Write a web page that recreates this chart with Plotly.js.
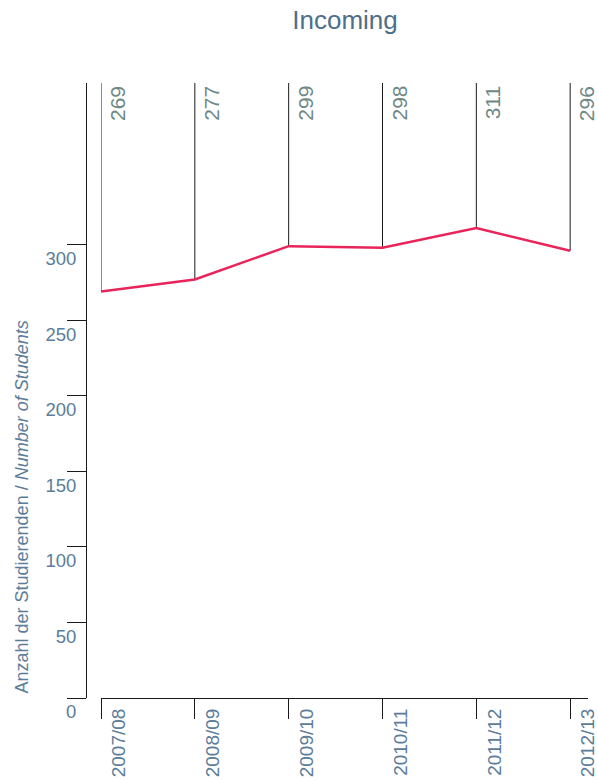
<!DOCTYPE html>
<html><head><meta charset="utf-8">
<script src="https://cdn.plot.ly/plotly-3.0.1.min.js"></script>
<style>html,body{margin:0;padding:0;background:#fff;}</style>
</head><body><div id="chart" style="width:598px;height:781px;"></div>
<script>
const years = ['2007/08','2008/09','2009/10','2010/11','2011/12','2012/13'];
const incoming = [269, 277, 299, 298, 311, 296];
const yTicks = [0, 50, 100, 150, 200, 250, 300];
const chartTitle = 'Incoming';
const yTitle = 'Anzahl der Studierenden / <i>Number of Students</i>';

const FONT = 'Liberation Sans, Arial, sans-serif';
const yMax = 407;

const dropX = [], dropY = [];
years.forEach((c, i) => { dropX.push(c, c, null); dropY.push(incoming[i], yMax, null); });

const traces = [
  {x: dropX, y: dropY, type: 'scatter', mode: 'lines', line: {color: '#1a1a1a', width: 1}, hoverinfo: 'skip', cliponaxis: false, showlegend: false},
  {x: years, y: incoming, type: 'scatter', mode: 'lines', line: {color: '#e8245a', width: 2.5}, cliponaxis: false, showlegend: false}
];

const annotations = years.map((c, i) => ({
  x: c, y: 1, xref: 'x', yref: 'paper', text: String(incoming[i]), showarrow: false,
  textangle: -90, xanchor: 'left', yanchor: 'top', xshift: 3, yshift: -1,
  font: {family: FONT, size: 21, color: '#6e8986'}
}));
annotations.push({
  x: 0, y: 0, xref: 'paper', yref: 'paper', text: yTitle, showarrow: false,
  textangle: -90, xanchor: 'center', yanchor: 'bottom', xshift: -65, yshift: 2,
  font: {family: FONT, size: 18, color: '#5b7d99'}
});

const layout = {
  width: 598, height: 781,
  margin: {l: 86, r: 10, t: 83, b: 83, pad: 0},
  paper_bgcolor: '#fff', plot_bgcolor: '#fff',
  showlegend: false,
  title: {text: chartTitle, x: 0.516, xref: 'paper', xanchor: 'center', y: 0.975, yref: 'container', yanchor: 'middle',
          font: {family: FONT, size: 26, color: '#4d6f8a'}},
  xaxis: {
    type: 'category', domain: [15/502, 1], range: [0, 5.19],
    showgrid: false, zeroline: false, showline: true, linecolor: '#1a1a1a', linewidth: 1,
    ticks: 'outside', ticklen: 20, tickcolor: '#1a1a1a', tickwidth: 1,
    tickangle: -90, ticklabelshift: 18, ticklabelstandoff: -18,
    tickfont: {family: FONT, size: 19, color: '#5b7d99'}
  },
  yaxis: {
    range: [0, yMax], anchor: 'free', position: 0,
    tickvals: yTicks, ticktext: yTicks.map(String),
    showgrid: false, zeroline: false, showline: true, linecolor: '#1a1a1a', linewidth: 1,
    ticks: 'outside', ticklen: 19, tickcolor: '#1a1a1a', tickwidth: 1,
    ticklabelshift: 14, ticklabelstandoff: -13,
    tickfont: {family: FONT, size: 18.5, color: '#5b7d99'}
  },
  annotations: annotations
};

Plotly.newPlot('chart', traces, layout, {displayModeBar: false, staticPlot: true});
</script>
</body></html>
